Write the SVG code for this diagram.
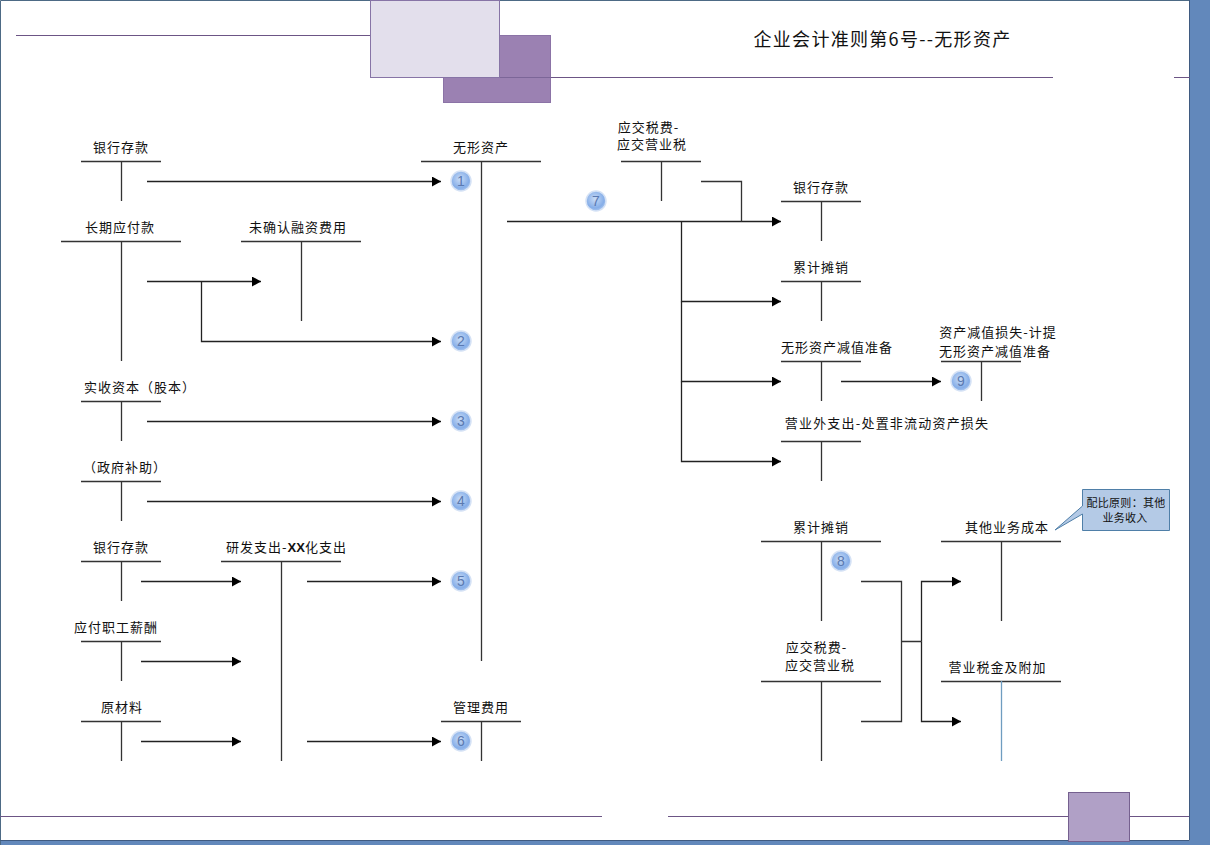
<svg xmlns="http://www.w3.org/2000/svg" width="1210" height="845" viewBox="0 0 1210 845">
<style>
text{font-family:"Noto Sans CJK SC","Noto Sans",sans-serif;fill:#111;font-size:13px;letter-spacing:1px;text-anchor:middle}
.l{stroke:#333;stroke-width:1.3;fill:none}
.a{stroke:#222;stroke-width:1.3;fill:none;marker-end:url(#ah)}
.p{stroke:#6c5585;stroke-width:1;fill:none}
.n{fill:url(#bg);stroke:#d5e2f5;stroke-width:1.5}
.d{fill:#5a79b0;font-size:14px;letter-spacing:0;font-family:"Liberation Sans",sans-serif}
</style>
<defs>
<marker id="ah" markerUnits="userSpaceOnUse" markerWidth="10" markerHeight="10" refX="9" refY="5" orient="auto"><path d="M0 0L9 5L0 10Z" fill="#000"/></marker>
<radialGradient id="bg" cx="0.45" cy="0.4" r="0.65"><stop offset="0" stop-color="#c9dcf6"/><stop offset="0.7" stop-color="#86aee8"/><stop offset="1" stop-color="#b5cef2"/></radialGradient>
</defs>
<rect width="1210" height="845" fill="#fff"/>
<g id="frame">
<path d="M1190 0H1210V845H0V841H1190Z" fill="#6288bb"/>
<path d="M0.5 845V0.5H1190" fill="none" stroke="#4d6a85" stroke-width="1"/>
<path d="M0 840.5H1189.5V0" fill="none" stroke="#3f5a80" stroke-width="1"/>
</g>
<g id="decor">
<path class="p" d="M16 35.5H371M500 77.5H1053M1174 77.5H1190M0 816.5H602M668 816.5H1068M1129 816.5H1189"/>
<rect x="443.500" y="35.500" width="107" height="67" fill="#9b81b2" stroke="#8b73a6"/>
<rect x="370.500" y="0.500" width="129" height="77" fill="#e3dfec" stroke="#8774a6"/>
<path d="M500 77.500H551" stroke="#7c6698" fill="none"/>
<rect x="1068.500" y="792.500" width="61" height="49" fill="#b0a0c6" stroke="#75608f"/>
<text x="882.500" y="46" style="font-size:18px;letter-spacing:1.3px" fill="#222">企业会计准则第6号--无形资产</text>
</g>
<g id="connectors">
<path class="a" d="M147 181.500H441"/>
<path class="a" d="M147 281.500H261"/>
<path class="a" d="M201.500 281.500V341.500H441"/>
<path class="a" d="M147 421.500H441"/>
<path class="a" d="M147 501.500H441"/>
<path class="a" d="M141 581.500H241"/>
<path class="a" d="M307 581.500H441"/>
<path class="a" d="M141 661.500H241"/>
<path class="a" d="M141 741.500H241"/>
<path class="a" d="M307 741.500H441"/>
<path class="a" d="M507 221.500H781"/>
<path class="l" d="M701 181.500H741.500V221.500"/>
<path class="a" d="M681.500 221.500V301.500H781"/>
<path class="a" d="M681.500 301.500V381.500H781"/>
<path class="a" d="M681.500 381.500V461.500H781"/>
<path class="a" d="M841 381.500H941"/>
<path class="l" d="M861 581.500H901.500V721.500H861M901.500 641.500H921.500"/>
<path class="a" d="M921.500 641.500V581.500H961"/>
<path class="a" d="M921.500 641.500V721.500H961"/>
</g>
<g id="n-bank1"><path class="l" d="M81 161.500H161M121.500 161V201"/><text x="121" y="152">银行存款</text></g>
<g id="n-intangible"><path class="l" d="M421 161.500H541M481.500 161V661"/><text x="481" y="152">无形资产</text></g>
<g id="n-ltpay"><path class="l" d="M61 241.500H181M121.500 241V361"/><text x="120" y="232">长期应付款</text></g>
<g id="n-unrec"><path class="l" d="M241 241.500H361M301.500 241V321"/><text x="298" y="232">未确认融资费用</text></g>
<g id="n-capital"><path class="l" d="M81 401.500H161M121.500 401V441"/><text x="140" y="392">实收资本（股本）</text></g>
<g id="n-gov"><path class="l" d="M81 481.500H161M121.500 481V521"/><text x="125" y="472">（政府补助）</text></g>
<g id="n-bank2"><path class="l" d="M81 561.500H161M121.500 561V601"/><text x="121" y="552">银行存款</text></g>
<g id="n-rd"><path class="l" d="M221 561.500H341M281.500 561V761"/><text x="286.500" y="552">研发支出-<tspan style="font-family:'Liberation Sans',sans-serif;font-weight:bold;letter-spacing:0">XX</tspan>化支出</text></g>
<g id="n-salary"><path class="l" d="M81 641.500H161M121.500 641V681"/><text x="116" y="632">应付职工薪酬</text></g>
<g id="n-material"><path class="l" d="M81 721.500H161M121.500 721V761"/><text x="122" y="712">原材料</text></g>
<g id="n-admin"><path class="l" d="M441 721.500H521M481.500 721V761"/><text x="481" y="712">管理费用</text></g>
<g id="n-tax1"><path class="l" d="M621 161.500H701M661.500 161V201"/><text x="648.500" y="132">应交税费-</text><text x="652" y="149">应交营业税</text></g>
<g id="n-bank3"><path class="l" d="M781 201.500H861M821.500 201V241"/><text x="821" y="192">银行存款</text></g>
<g id="n-amort1"><path class="l" d="M781 281.500H861M821.500 281V321"/><text x="821" y="272">累计摊销</text></g>
<g id="n-reserve"><path class="l" d="M781 361.500H861M821.500 361V401"/><text x="837" y="352">无形资产减值准备</text></g>
<g id="n-loss"><path class="l" d="M941 361.500H1021M981.500 361V401"/><text x="998" y="337">资产减值损失-计提</text><text x="995" y="356">无形资产减值准备</text></g>
<g id="n-nonop"><path class="l" d="M781 441.500H861M821.500 441V481"/><text x="887" y="428" style="letter-spacing:1.2px">营业外支出-处置非流动资产损失</text></g>
<g id="n-amort2"><path class="l" d="M761 541.500H881M821.500 541V621"/><text x="821" y="532">累计摊销</text></g>
<g id="n-other"><path class="l" d="M941 541.500H1061M1001.500 541V621"/><text x="1007" y="532">其他业务成本</text></g>
<g id="n-tax2"><path class="l" d="M761 681.500H881M821.500 681V761"/><text x="816.500" y="652">应交税费-</text><text x="820" y="670">应交营业税</text></g>
<g id="n-biztax"><path class="l" d="M941 681.500H1061"/><path d="M1001.500 681V761" stroke="#6f9dc0" stroke-width="1.3"/><text x="997.500" y="672">营业税金及附加</text></g>
<g id="n-callout">
<path d="M1082.500 489.500H1169.500V530.500H1082.500V514L1055 530L1082.500 506Z" fill="#b4cae6" stroke="#4f7fa8"/>
<text x="1126" y="507" style="font-size:11px;letter-spacing:0.3px" fill="#444">配比原则：其他</text>
<text x="1125" y="522" style="font-size:11px;letter-spacing:0.3px" fill="#444">业务收入</text>
</g>
<g id="badges">
<circle class="n" cx="461" cy="181" r="10"/><text class="d" x="461" y="186">1</text>
<circle class="n" cx="461" cy="341" r="10"/><text class="d" x="461" y="346">2</text>
<circle class="n" cx="461" cy="421" r="10"/><text class="d" x="461" y="426">3</text>
<circle class="n" cx="461" cy="501" r="10"/><text class="d" x="461" y="506">4</text>
<circle class="n" cx="461" cy="581" r="10"/><text class="d" x="461" y="586">5</text>
<circle class="n" cx="461" cy="741" r="10"/><text class="d" x="461" y="746">6</text>
<circle class="n" cx="596" cy="201" r="10"/><text class="d" x="596" y="206">7</text>
<circle class="n" cx="841" cy="561" r="10"/><text class="d" x="841" y="566">8</text>
<circle class="n" cx="961" cy="381" r="10"/><text class="d" x="961" y="386">9</text>
</g>
</svg>
